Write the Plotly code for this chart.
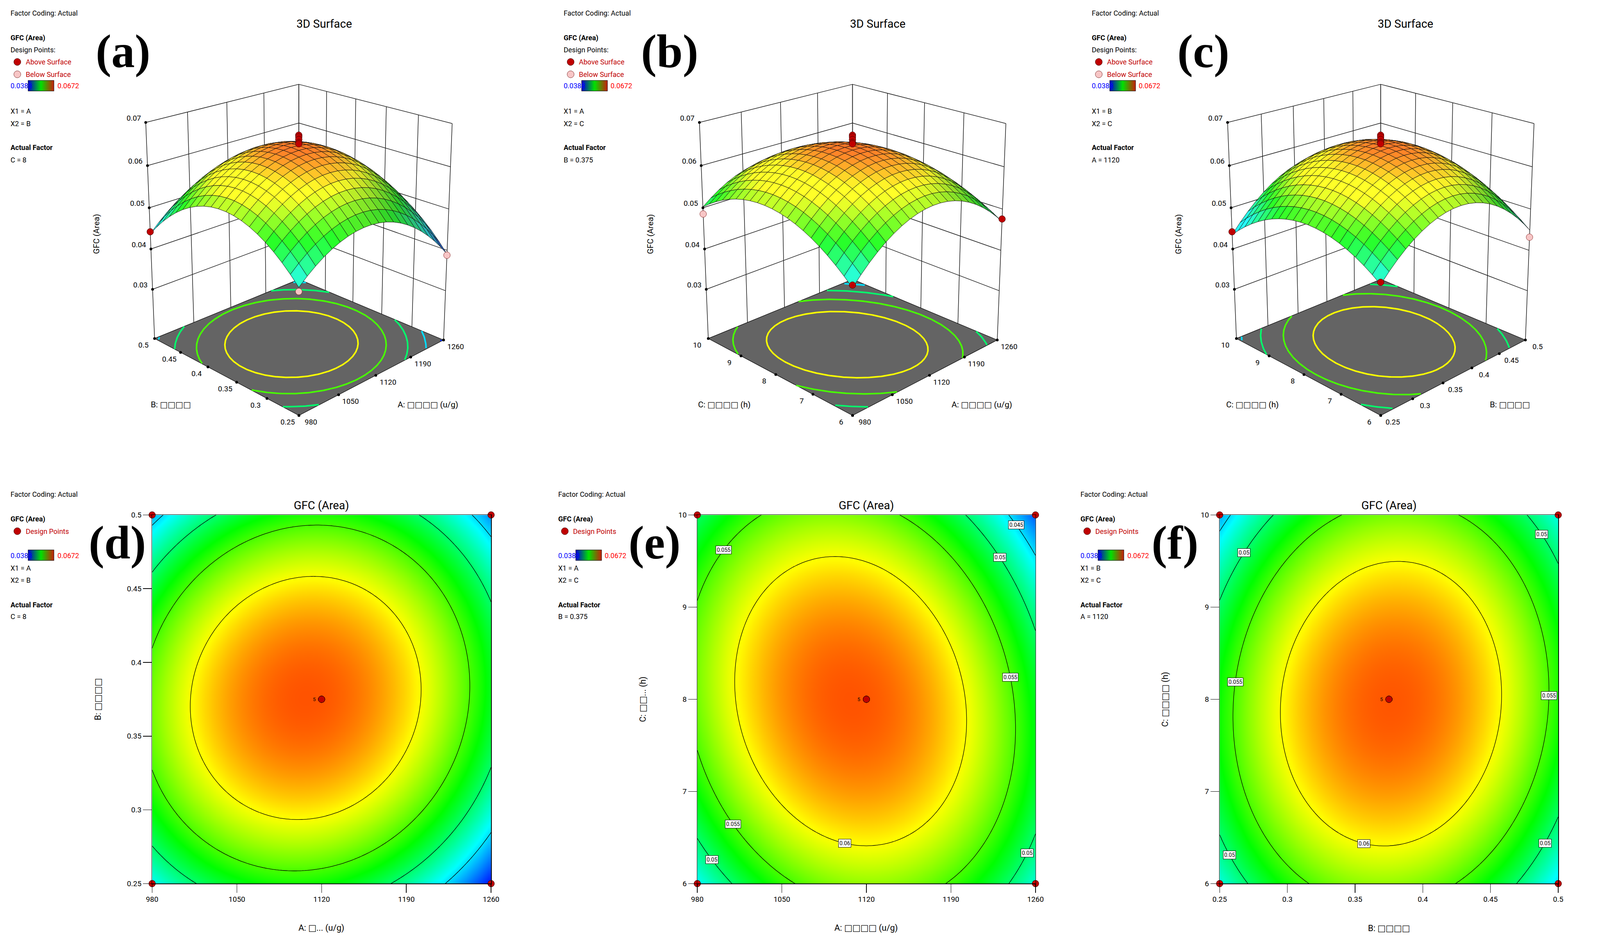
import numpy as np
import plotly.graph_objects as go
from plotly.colors import sample_colorscale

W, H = 4224, 2417
FONT = "Roboto, 'Noto Sans', 'DejaVu Sans', sans-serif"
SERIF = "'Liberation Serif', 'DejaVu Serif', serif"

# ---------------- data ----------------
factor_low = [980, 0.25, 6]
factor_high = [1260, 0.5, 10]
A_ticks = [980, 1050, 1120, 1190, 1260]
B_ticks = [0.25, 0.3, 0.35, 0.4, 0.45, 0.5]
C_ticks = [6, 7, 8, 9, 10]
GFC_ticks = [0.03, 0.04, 0.05, 0.06, 0.07]
factor_ticks = [A_ticks, B_ticks, C_ticks]

# quadratic response-surface model (coded factors)
b0 = 0.0648
b_lin = [-0.0020, 0.0003, -0.0004]          # A, B, C
b_inter = {(0, 1): 0.0015, (0, 2): -0.0025, (1, 2): 0.0012}
b_quad = [-0.0106, -0.0113, -0.0081]

# Box-Behnken design runs
run_A = [980, 1260, 980, 1260, 980, 1260, 980, 1260, 1120, 1120, 1120, 1120, 1120, 1120, 1120, 1120, 1120]
run_B = [0.25, 0.25, 0.5, 0.5, 0.375, 0.375, 0.375, 0.375, 0.25, 0.5, 0.25, 0.5, 0.375, 0.375, 0.375, 0.375, 0.375]
run_C = [8, 8, 8, 8, 6, 6, 10, 10, 6, 6, 10, 10, 8, 8, 8, 8, 8]
run_GFC = [0.0452, 0.0388, 0.0442, 0.0420, 0.0466, 0.0476, 0.0485, 0.0415,
           0.0472, 0.0432, 0.0442, 0.0460, 0.0672, 0.0668, 0.0662, 0.0655, 0.0652]

resp_min, resp_max = 0.0388, 0.0672
Z_floor, Z_top = 0.0175, 0.07
levels_2d = [0.045, 0.05, 0.055, 0.06]
levels_floor = [0.04, 0.045, 0.05, 0.055, 0.06]

axis_title_3d = {0: "A: □□□□ (u/g)", 1: "B: □□□□", 2: "C: □□□□ (h)"}
titles_2d = {"d": ("A: □... (u/g)", "B: □□□□"),
             "e": ("A: □□□□ (u/g)", "C: □□... (h)"),
             "f": ("B: □□□□", "C: □□□□ (h)")}
actual_factor_text = {(0, 1): "C = 8", (0, 2): "B = 0.375", (1, 2): "A = 1120"}
pair_text = {(0, 1): ("X1 = A", "X2 = B"), (0, 2): ("X1 = A", "X2 = C"), (1, 2): ("X1 = B", "X2 = C")}

# contour-label placements (level, x, y, solve-for)
labels_e = [(0.045, 1250.8, 9.89, "x"), (0.05, 1235.9, 9.54, "x"), (0.055, 1004.4, 9.62, "x"),
            (0.055, 1240, 8.24, "x"), (0.055, 1009.9, 6.645, "x"), (0.06, 1101.9, 6.48, "y"),
            (0.05, 990, 6.26, "x"), (0.05, 1249.7, 6.33, "x")]
labels_f = [(0.05, 0.2667, 9.59, "x"), (0.05, 0.4882, 9.79, "x"), (0.055, 0.2631, 8.19, "x"),
            (0.055, 0.4913, 8.04, "x"), (0.06, 0.3566, 6.49, "y"), (0.05, 0.2589, 6.31, "x"),
            (0.05, 0.4873, 6.44, "x")]

# 3D view: panel-local pixel positions of the plot box corners (camera calibration)
cam_world = [(-1, 1, Z_floor), (1, -1, Z_floor), (-1, -1, Z_floor), (-1, 1, Z_top), (1, -1, Z_top),
             (1, 1, Z_top), (1, 1, 0.06), (-1, 1, 0.03), (-1, 1, 0.05)]
cam_pix = [(380.6, 868), (1126, 868), (753, 1062.5), (355.7, 308.3), (1151, 308.3),
           (753, 209.5), (753, 304), (376.7, 734), (366.6, 522)]

CS = [[0.0, "rgb(0,0,255)"], [0.25, "rgb(0,255,255)"], [0.5, "rgb(0,255,0)"],
      [0.75, "rgb(255,255,0)"], [1.0, "rgb(255,0,0)"]]
CS_LEGEND = [[0.0, "rgb(0,0,210)"], [0.5, "rgb(0,225,0)"], [1.0, "rgb(200,30,10)"]]


# ---------------- model helpers ----------------
def code(v, k):
    mid = (factor_low[k] + factor_high[k]) / 2.0
    half = (factor_high[k] - factor_low[k]) / 2.0
    return (np.asarray(v, dtype=float) - mid) / half


def uncode(u, k):
    mid = (factor_low[k] + factor_high[k]) / 2.0
    half = (factor_high[k] - factor_low[k]) / 2.0
    return np.asarray(u) * half + mid


def predict(xa, xb, xc):
    x = [xa, xb, xc]
    y = b0 + sum(b_lin[k] * x[k] for k in range(3))
    for (i, j), b in b_inter.items():
        y = y + b * x[i] * x[j]
    y = y + sum(b_quad[k] * x[k] ** 2 for k in range(3))
    return y


def pair_pred(i, j, ui, uj):
    x = [0.0, 0.0, 0.0]
    x[i] = ui
    x[j] = uj
    return predict(*x)


def grid(i, j, n=21):
    xi = np.linspace(factor_low[i], factor_high[i], n)
    xj = np.linspace(factor_low[j], factor_high[j], n)
    UI, UJ = np.meshgrid(code(xi, i), code(xj, j))
    return xi, xj, pair_pred(i, j, UI, UJ)


def ellipse_coded(i, j, level, npts=361):
    g = np.array([b_lin[i], b_lin[j]])
    Hm = np.array([[b_quad[i], b_inter[(i, j)] / 2], [b_inter[(i, j)] / 2, b_quad[j]]])
    xs = -0.5 * np.linalg.solve(Hm, g)
    ys = b0 + 0.5 * g @ xs
    r = ys - level
    if r <= 0:
        return None
    lam, V = np.linalg.eigh(-Hm)
    t = np.linspace(0, 2 * np.pi, npts)
    pts = xs[:, None] + V @ np.vstack([np.sqrt(r / lam[0]) * np.cos(t), np.sqrt(r / lam[1]) * np.sin(t)])
    out = np.any(np.abs(pts) > 1.0, axis=0)
    pts[:, out] = np.nan
    return pts


def solve_label(i, j, level, xv, yv, mode):
    bij = b_inter[(i, j)]
    if mode == "x":
        v = float(code(yv, j))
        a = b_quad[i]; bq = b_lin[i] + bij * v; c = b0 + b_lin[j] * v + b_quad[j] * v * v - level
        d = bq * bq - 4 * a * c
        if d < 0:
            return xv, yv
        roots = [(-bq + s * np.sqrt(d)) / (2 * a) for s in (1, -1)]
        u0 = float(code(xv, i))
        u = min(roots, key=lambda r: abs(r - u0))
        return float(uncode(u, i)), yv
    u = float(code(xv, i))
    a = b_quad[j]; bq = b_lin[j] + bij * u; c = b0 + b_lin[i] * u + b_quad[i] * u * u - level
    d = bq * bq - 4 * a * c
    if d < 0:
        return xv, yv
    roots = [(-bq + s * np.sqrt(d)) / (2 * a) for s in (1, -1)]
    v0 = float(code(yv, j))
    v = min(roots, key=lambda r: abs(r - v0))
    return xv, float(uncode(v, j))


# ---------------- projection (camera fitted to the box corners) ----------------
def wnorm(z):
    return (np.asarray(z, float) - Z_floor) / (Z_top - Z_floor)


def fit_camera():
    Xw = np.array([[u, v, float(wnorm(z)), 1.0] for u, v, z in cam_world])
    xy = np.array(cam_pix, float)
    m = xy.mean(0)
    s = np.sqrt(2) / np.mean(np.linalg.norm(xy - m, axis=1))
    T = np.array([[s, 0, -s * m[0]], [0, s, -s * m[1]], [0, 0, 1]])
    xyn = (xy - m) * s
    rows = []
    for X, (x, y) in zip(Xw, xyn):
        rows.append(np.concatenate([X, np.zeros(4), -x * X]))
        rows.append(np.concatenate([np.zeros(4), X, -y * X]))
    _, _, Vt = np.linalg.svd(np.array(rows))
    P = np.linalg.inv(T) @ Vt[-1].reshape(3, 4)
    if (P @ np.array([0, 0, 0.5, 1]))[2] < 0:
        P = -P
    return P


CAM = fit_camera()


def proj(u, v, z):
    u = np.atleast_1d(np.asarray(u, float)); v = np.atleast_1d(np.asarray(v, float))
    z = np.atleast_1d(np.asarray(z, float))
    u, v, z = np.broadcast_arrays(u, v, z)
    X = np.vstack([u.ravel(), v.ravel(), wnorm(z.ravel()), np.ones(u.size)])
    h = CAM @ X
    return h[0] / h[2], h[1] / h[2]


def nl(a):
    return [None if not np.isfinite(t) else float(t) for t in a]


def px(x):
    return x / W


def py(y):
    return 1 - y / H


runs = [np.array(run_A, float), np.array(run_B, float), np.array(run_C, float)]
gfc = np.array(run_GFC)

fig = go.Figure()
annotations = []
shapes = []


def txt(s, x, y, size=18, color="black", xanchor="left", family=FONT, angle=0, yanchor="middle"):
    annotations.append(dict(text=s, x=px(x), y=py(y), xref="paper", yref="paper", showarrow=False,
                            xanchor=xanchor, yanchor=yanchor, textangle=angle,
                            font=dict(size=size, color=color, family=family)))


def circle(cx, cy, fill, line, r=9):
    shapes.append(dict(type="circle", xref="paper", yref="paper", x0=px(cx - r), x1=px(cx + r),
                       y0=py(cy + r), y1=py(cy - r), fillcolor=fill, line=dict(color=line, width=1)))


def legend_bar(xa, ya, x0, y0, lo, yc):
    fig.add_trace(go.Scatter(
        x=[x0, x0], y=[y0, y0], mode="markers", xaxis=xa, yaxis=ya, hoverinfo="skip", showlegend=False,
        marker=dict(size=1, opacity=0, color=[resp_min, resp_max], colorscale=CS_LEGEND,
                    cmin=resp_min, cmax=resp_max, showscale=True,
                    colorbar=dict(orientation="h", x=px(lo + 54), xanchor="left", y=py(yc), yanchor="middle",
                                  lenmode="pixels", len=66, thicknessmode="pixels", thickness=27,
                                  outlinecolor="black", outlinewidth=1, showticklabels=False, ticks="",
                                  xpad=0, ypad=0, borderwidth=0))))


def rgb_of(val):
    s = sample_colorscale(CS, [float(np.clip((val - resp_min) / (resp_max - resp_min), 0, 1))])[0]
    return np.array([float(t) for t in s[s.index("(") + 1:-1].split(",")])


RED = "#c00000"
PINK = "#f7c6c6"
LIGHT = np.array([-0.8, 0.2, 1.0]) / np.linalg.norm([-0.8, 0.2, 1.0])
HVIS = 2.6
NCELL = 20

# ---------------- 3D panels (drawn on pixel-scaled 2D axes) ----------------
# (factor pair, label, geometry offset, legend offset, label centre, title centre)
pairs3d = [((0, 1), "(a)", 0, 0, 299, 819),
           ((0, 2), "(b)", 1431, 1430, 1712, 2249),
           ((1, 2), "(c)", 2796, 2795, 3091, 3613)]
L0, L1, T0, T1 = 150, 1300, 140, 1160
for n, ((i, j), lab, ox, lo, labc, titc) in enumerate(pairs3d, start=4):
    xa, ya = f"x{n}", f"y{n}"
    tr = dict(xaxis=xa, yaxis=ya, hoverinfo="skip", showlegend=False)
    fig.update_layout(**{
        f"xaxis{n}": dict(domain=[px(ox + L0), px(ox + L1)], range=[L0, L1], visible=False, fixedrange=True),
        f"yaxis{n}": dict(domain=[py(T1), py(T0)], range=[T1, T0], visible=False, fixedrange=True)})
    # back walls
    for corners in ([(-1, 1), (1, 1)], [(1, -1), (1, 1)]):
        (ua, va), (ub, vb) = corners
        X, Y = proj([ua, ub, ub, ua, ua], [va, vb, vb, va, va], [Z_floor, Z_floor, Z_top, Z_top, Z_floor])
        fig.add_trace(go.Scatter(x=X, y=Y, mode="lines", fill="toself", fillcolor="white",
                                 line=dict(width=0, color="white"), **tr))
    gx, gy = [], []
    for z in GFC_ticks:
        for (ua, va, ub, vb) in ((-1, 1, 1, 1), (1, -1, 1, 1)):
            X, Y = proj([ua, ub], [va, vb], [z, z])
            gx += list(X) + [None]; gy += list(Y) + [None]
    for u in code(factor_ticks[i], i):
        X, Y = proj([u, u], [1, 1], [Z_floor, Z_top])
        gx += list(X) + [None]; gy += list(Y) + [None]
    for v in code(factor_ticks[j], j):
        X, Y = proj([1, 1], [v, v], [Z_floor, Z_top])
        gx += list(X) + [None]; gy += list(Y) + [None]
    fig.add_trace(go.Scatter(x=gx, y=gy, mode="lines", line=dict(color="#1a1a1a", width=1.5), **tr))
    # floor
    X, Y = proj([-1, 1, 1, -1, -1], [-1, -1, 1, 1, -1], [Z_floor] * 5)
    fig.add_trace(go.Scatter(x=X, y=Y, mode="lines", fill="toself", fillcolor="#646464",
                             line=dict(width=1.2, color="black"), **tr))
    for Lv in levels_floor:
        e = ellipse_coded(i, j, Lv)
        if e is None:
            continue
        X, Y = proj(e[0], e[1], np.full(e.shape[1], Z_floor))
        c = rgb_of(Lv)
        fig.add_trace(go.Scatter(x=nl(X), y=nl(Y), mode="lines", connectgaps=False,
                                 line=dict(color=f"rgb({c[0]:.0f},{c[1]:.0f},{c[2]:.0f})", width=4), **tr))
    # surface cells and design points, painter's order (far to near)
    edges = np.linspace(-1, 1, NCELL + 1)
    items = []
    for a in range(NCELL):
        for b in range(NCELL):
            cu = [edges[a], edges[a + 1], edges[a + 1], edges[a]]
            cv = [edges[b], edges[b], edges[b + 1], edges[b + 1]]
            cz = np.array([pair_pred(i, j, uu, vv) for uu, vv in zip(cu, cv)])
            items.append((-(edges[a] + edges[a + 1] + edges[b] + edges[b + 1]) / 2, 0, ("cell", cu, cv, cz)))
    k = 3 - i - j
    sel = np.abs(code(runs[k], k)) < 1e-9
    for ai, bi, zi in zip(runs[i][sel], runs[j][sel], gfc[sel]):
        ua, vb = float(code(ai, i)), float(code(bi, j))
        above = zi >= pair_pred(i, j, ua, vb)
        items.append((-(ua + vb) + 0.3, 1, ("pt", ua, vb, zi, above)))
    items.sort(key=lambda t: (t[0], t[1]))
    du = 2.0 / NCELL
    for _, _, it in items:
        if it[0] == "cell":
            _, cu, cv, cz = it
            hz = wnorm(cz) * HVIS
            dzu = ((hz[1] + hz[2]) - (hz[0] + hz[3])) / 2 / du
            dzv = ((hz[2] + hz[3]) - (hz[0] + hz[1])) / 2 / du
            nrm = np.array([-dzu, -dzv, 1.0]); nrm /= np.linalg.norm(nrm)
            d = max(0.0, float(nrm @ LIGHT))
            base = rgb_of(cz.mean())
            col = np.clip(base * (0.55 + 0.5 * d) + 40, 0, 255)
            X, Y = proj(cu + [cu[0]], cv + [cv[0]], list(cz) + [cz[0]])
            fig.add_trace(go.Scatter(x=X, y=Y, mode="lines", fill="toself",
                                     fillcolor=f"rgb({col[0]:.0f},{col[1]:.0f},{col[2]:.0f})",
                                     line=dict(color="#111111", width=1), **tr))
        else:
            _, ua, vb, zi, above = it
            X, Y = proj([ua], [vb], [zi])
            fig.add_trace(go.Scatter(x=X, y=Y, mode="markers", cliponaxis=False,
                                     marker=dict(size=17, color=RED if above else PINK,
                                                 line=dict(color="#400000" if above else "#903030", width=1)),
                                     **tr))
    # tick dots and labels
    tx, ty = [], []
    for z in GFC_ticks:
        X, Y = proj([-1], [1], [z]); tx.append(X[0]); ty.append(Y[0])
        annotations.append(dict(text=f"{z:.2f}", x=X[0], y=Y[0], xref=xa, yref=ya, showarrow=False,
                                xshift=-31, yshift=11, font=dict(size=19, family=FONT, color="black")))
    for tv in factor_ticks[j]:
        X, Y = proj([-1], [code(tv, j)], [Z_floor]); tx.append(X[0]); ty.append(Y[0])
        annotations.append(dict(text=f"{tv:g}", x=X[0], y=Y[0], xref=xa, yref=ya, showarrow=False,
                                xshift=-29, yshift=-17, font=dict(size=19, family=FONT, color="black")))
    for tv in factor_ticks[i]:
        X, Y = proj([code(tv, i)], [-1], [Z_floor]); tx.append(X[0]); ty.append(Y[0])
        annotations.append(dict(text=f"{tv:g}", x=X[0], y=Y[0], xref=xa, yref=ya, showarrow=False,
                                xshift=31, yshift=-17, font=dict(size=19, family=FONT, color="black")))
    fig.add_trace(go.Scatter(x=tx, y=ty, mode="markers", cliponaxis=False,
                             marker=dict(size=7, color="black"), **tr))
    legend_bar(xa, ya, L0, T0, lo, 211)
    # axis titles
    txt(axis_title_3d[j], ox + 422, 1035, size=21, xanchor="center")
    txt(axis_title_3d[i], ox + 1087, 1035, size=21, xanchor="center")
    txt("GFC (Area)", ox + 231, 594, size=21, xanchor="center", angle=-90)
    # legend block
    txt("Factor Coding: Actual", lo + 6, 23)
    txt("<b>GFC (Area)</b>", lo + 6, 87)
    txt("Design Points:", lo + 6, 118)
    circle(lo + 25.6, 149, RED, "#400000")
    txt("Above Surface", lo + 45, 149, color=RED)
    circle(lo + 25.6, 181, PINK, "#803030")
    txt("Below Surface", lo + 45, 181, color=RED)
    txt("0.0388", lo + 6, 211, color="#0000ff")
    txt("0.0672", lo + 127, 211, color="#ff0000")
    t1, t2 = pair_text[(i, j)]
    txt(t1, lo + 6, 276)
    txt(t2, lo + 6, 308)
    txt("<b>Actual Factor</b>", lo + 6, 370)
    txt(actual_factor_text[(i, j)], lo + 6, 402)
    txt("3D Surface", titc, 50, size=29, xanchor="center")
    txt("<b>" + lab + "</b>", labc, 122, size=120, xanchor="center", family=SERIF)

# ---------------- 2D contour panels ----------------
pairs2d = [((0, 1), "d", 0, 374, 1250, []),
           ((0, 2), "e", 1415, 1783, 2657, labels_e),
           ((1, 2), "f", 2765, 3133, 4008, labels_f)]
label_centers = {"d": 284, "e": 1672, "f": 3018}
top2d, bot2d = 1320, 2273
for n, ((i, j), key, ox, x0, x1, labs) in enumerate(pairs2d, start=1):
    xa = "x" if n == 1 else f"x{n}"
    ya = "y" if n == 1 else f"y{n}"
    xi, xj, Z = grid(i, j, 121)
    fig.add_trace(go.Contour(
        x=xi, y=xj, z=Z, xaxis=xa, yaxis=ya, colorscale=CS, zmin=resp_min, zmax=resp_max,
        contours=dict(start=levels_2d[0], end=levels_2d[-1], size=0.005, coloring="heatmap", showlabels=False),
        line=dict(color="black", width=1.3, smoothing=1), showscale=False, hoverinfo="skip"))
    k = 3 - i - j
    sel = np.abs(code(runs[k], k)) < 1e-9
    fig.add_trace(go.Scatter(x=runs[i][sel], y=runs[j][sel], xaxis=xa, yaxis=ya, mode="markers",
                             marker=dict(size=17, color=RED, line=dict(color="#300000", width=1)),
                             cliponaxis=False, hoverinfo="skip", showlegend=False))
    legend_bar(xa, ya, factor_low[i], factor_low[j], ox, 1425)
    ncenter = int(np.sum(sel & (np.abs(code(runs[i], i)) < 1e-9) & (np.abs(code(runs[j], j)) < 1e-9)))
    annotations.append(dict(text=str(ncenter), x=(factor_low[i] + factor_high[i]) / 2,
                            y=(factor_low[j] + factor_high[j]) / 2, xref=xa, yref=ya, showarrow=False,
                            xshift=-19, font=dict(size=13, family=FONT, color="black")))
    for (Lv, lx, ly, mode) in labs:
        sx, sy = solve_label(i, j, Lv, lx, ly, mode)
        annotations.append(dict(text=f"{Lv:g}", x=sx, y=sy, xref=xa, yref=ya, showarrow=False,
                                bgcolor="white", bordercolor="black", borderwidth=1, borderpad=2,
                                font=dict(size=14, family=FONT, color="black")))
    axc = dict(showline=True, mirror=True, linecolor="black", linewidth=1.5, ticks="outside", ticklen=22,
               tickwidth=1.5, tickcolor="black", showgrid=False, zeroline=False,
               tickfont=dict(size=19, family=FONT, color="black"))
    fig.update_layout(**{
        ("xaxis" if n == 1 else f"xaxis{n}"): dict(domain=[px(x0), px(x1)], range=[factor_low[i], factor_high[i]],
                                                   tickvals=factor_ticks[i], anchor=ya, **axc),
        ("yaxis" if n == 1 else f"yaxis{n}"): dict(domain=[py(bot2d), py(top2d)], range=[factor_low[j], factor_high[j]],
                                                   tickvals=factor_ticks[j], anchor=xa, **axc)})
    xt, yt = titles_2d[key]
    txt(xt, (x0 + x1) / 2, 2388, size=22, xanchor="center")
    txt(yt, x0 - 140, (top2d + bot2d) / 2, size=22, xanchor="center", angle=-90)
    txt("GFC (Area)", (x0 + x1) / 2, 1295, size=29, xanchor="center")
    txt("Factor Coding: Actual", ox + 6, 1267)
    txt("<b>GFC (Area)</b>", ox + 6, 1331)
    circle(ox + 25.6, 1362, RED, "#400000")
    txt("Design Points", ox + 45, 1362, color=RED)
    txt("0.0388", ox + 6, 1425, color="#0000ff")
    txt("0.0672", ox + 127, 1425, color="#ff0000")
    t1, t2 = pair_text[(i, j)]
    txt(t1, ox + 6, 1457)
    txt(t2, ox + 6, 1489)
    txt("<b>Actual Factor</b>", ox + 6, 1552)
    txt(actual_factor_text[(i, j)], ox + 6, 1583)
    txt("<b>(" + key + ")</b>", label_centers[key], 1392, size=120, xanchor="center", family=SERIF)

fig.update_layout(width=W, height=H, margin=dict(l=0, r=0, t=0, b=0), paper_bgcolor="white",
                  plot_bgcolor="white", showlegend=False, hovermode=False,
                  annotations=annotations, shapes=shapes, font=dict(family=FONT))
fig.write_html("out.html", config={"staticPlot": True},
               post_script="document.body.style.margin='0';document.body.style.overflow='hidden';")
